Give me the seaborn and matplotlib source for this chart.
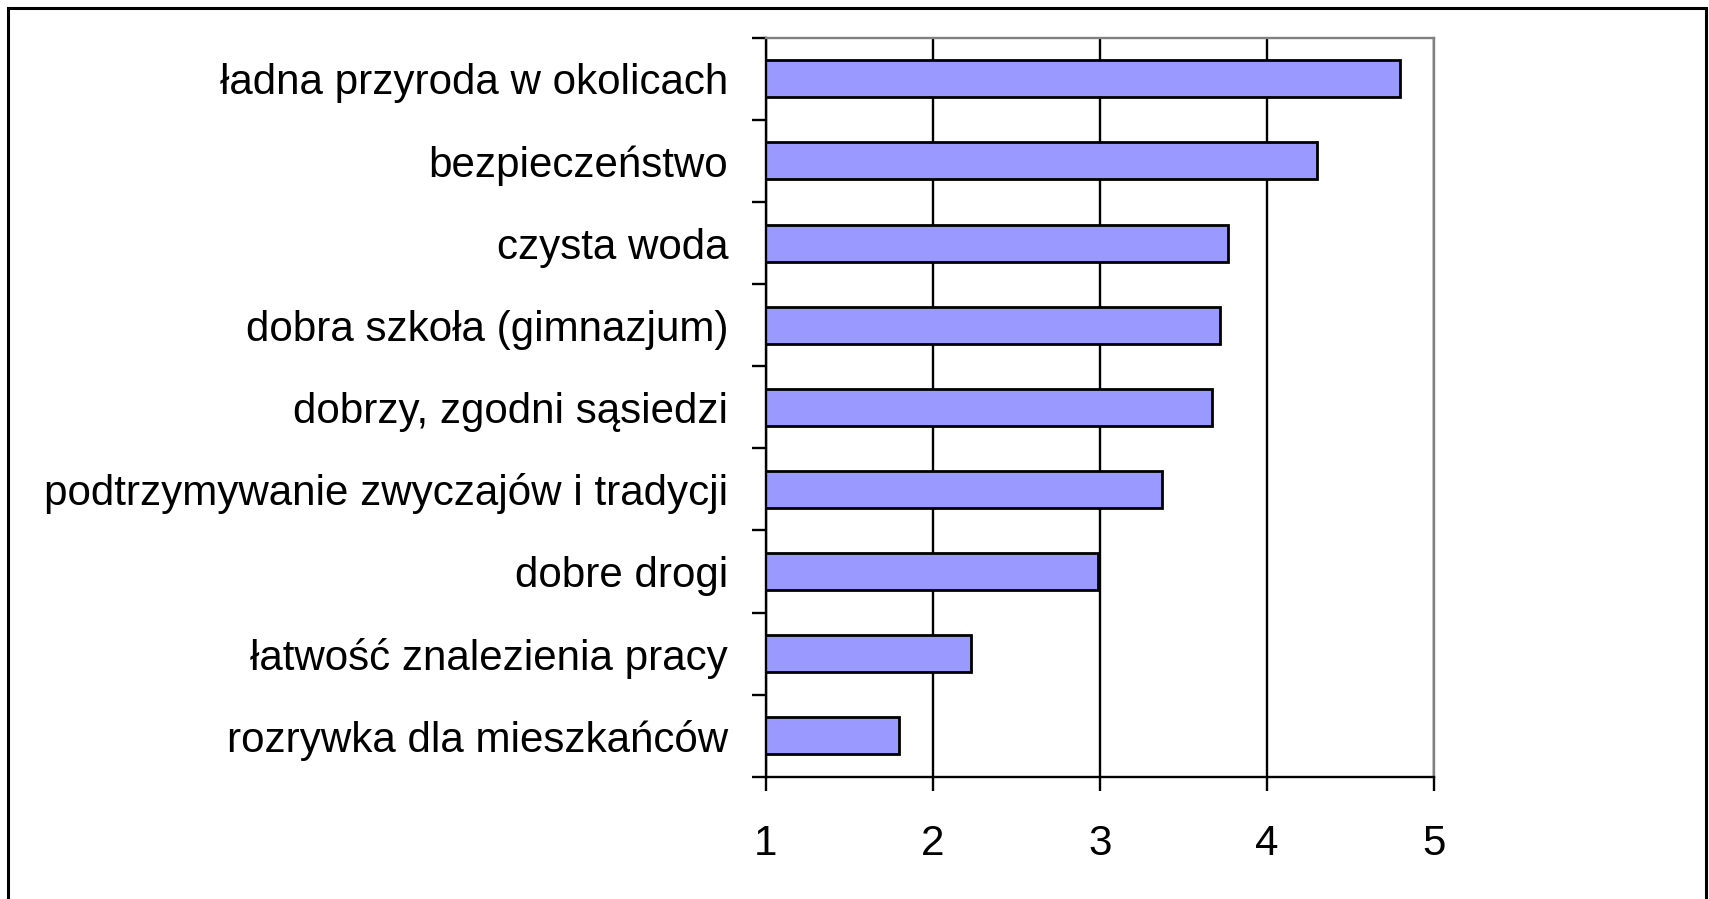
import seaborn as sns
import matplotlib.pyplot as plt
import numpy as np
from matplotlib.patches import Rectangle

# values
categories = [
    "ładna przyroda w okolicach",
    "bezpieczeństwo",
    "czysta woda",
    "dobra szkoła (gimnazjum)",
    "dobrzy, zgodni sąsiedzi",
    "podtrzymywanie zwyczajów i tradycji",
    "dobre drogi",
    "łatwość znalezienia pracy",
    "rozrywka dla mieszkańców",
]
scores = [4.80, 4.30, 3.77, 3.72, 3.67, 3.37, 2.99, 2.23, 1.80]
x_ticks = [1, 2, 3, 4, 5]

sns.set_theme(style="white")
plt.rcParams["font.family"] = ["Liberation Sans", "DejaVu Sans"]

fig = plt.figure(figsize=(17.09, 8.99), dpi=100)
ax = fig.add_axes([0.448, 0.136, 0.391, 0.822])

sns.barplot(x=scores, y=categories, orient="h", color="#9999FF", saturation=1,
            edgecolor="black", linewidth=2, width=0.45, ax=ax)

ax.set_xlim(1, 5)
ax.set_ylim(len(categories) - 0.5, -0.5)
ax.set_xticks(x_ticks)
ax.set_xticklabels([str(t) for t in x_ticks])
ax.xaxis.grid(True, color="black", linewidth=1.7)
ax.set_axisbelow(True)

# category separators as tick marks on the left
ax.set_yticks(np.arange(-0.5, len(categories), 1), minor=True)
ax.tick_params(axis="y", which="major", length=0, pad=27, labelsize=30.3, labelcolor="black")
ax.tick_params(axis="y", which="minor", left=True, length=10, width=1.7, color="black")
ax.tick_params(axis="x", bottom=True, length=10, width=1.7, color="black", pad=24,
               labelsize=30.3, labelcolor="black")

for side in ["left", "bottom"]:
    ax.spines[side].set_color("black")
    ax.spines[side].set_linewidth(1.7)
for side in ["top", "right"]:
    ax.spines[side].set_color("#808080")
    ax.spines[side].set_linewidth(1.7)

# outer frame of the chart area
fig.patches.append(Rectangle((8 / 1709, -0.02), 1698 / 1709, 1 - 8 / 899 + 0.02,
                             transform=fig.transFigure, fill=False,
                             edgecolor="black", linewidth=2.2))

fig.savefig("out.png", dpi=100)
